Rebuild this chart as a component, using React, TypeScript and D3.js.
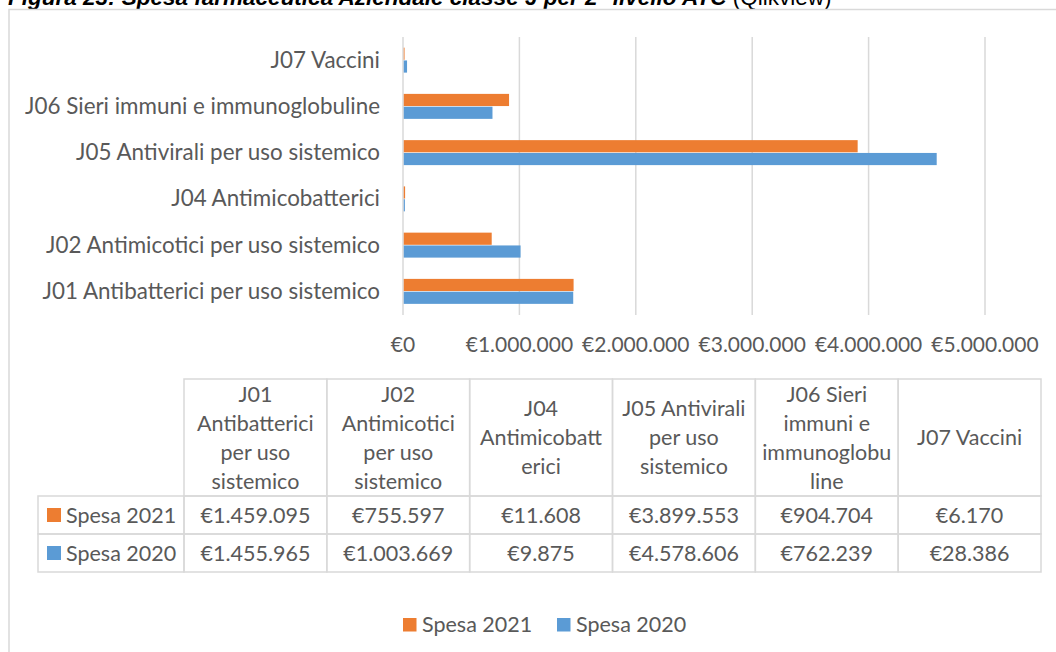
import React from "react";
import * as d3 from "d3";

const categories = [
  "J01 Antibatterici per uso sistemico",
  "J02 Antimicotici per uso sistemico",
  "J04 Antimicobatterici",
  "J05 Antivirali per uso sistemico",
  "J06 Sieri immuni e immunoglobuline",
  "J07 Vaccini",
];
const spesa2021 = [1459095, 755597, 11608, 3899553, 904704, 6170];
const spesa2020 = [1455965, 1003669, 9875, 4578606, 762239, 28386];
const seriesNames = ["Spesa 2021", "Spesa 2020"];
const seriesColors = ["#ED7D31", "#5B9BD5"];
const xTicks = [0, 1000000, 2000000, 3000000, 4000000, 5000000];
const tableHeaders = [
  ["J01", "Antibatterici", "per uso", "sistemico"],
  ["J02", "Antimicotici", "per uso", "sistemico"],
  ["J04", "Antimicobatt", "erici"],
  ["J05 Antivirali", "per uso", "sistemico"],
  ["J06 Sieri", "immuni e", "immunoglobu", "line"],
  ["J07 Vaccini"],
];

const locale = d3.formatLocale({
  decimal: ",",
  thousands: ".",
  grouping: [3],
  currency: ["€", ""],
});
const fmt = locale.format("$,.0f");

const FONT = "Lato, 'Open Sans', sans-serif";
const TXT = "#595959";
const GRID = "#d9d9d9";

export default function App() {
  const W = 1056;
  const H = 652;
  const x = d3.scaleLinear().domain([0, 5000000]).range([403, 985]);
  const yCat = d3
    .scaleBand<string>()
    .domain([...categories].reverse())
    .range([37, 314.5])
    .paddingInner(0.46)
    .paddingOuter(0.23);
  const ySer = d3
    .scaleBand<string>()
    .domain(seriesNames)
    .range([0, yCat.bandwidth()])
    .paddingInner(0.05);
  const series = [spesa2021, spesa2020];

  // table layout
  const tTop = 379;
  const tHeadBot = 496;
  const rowH = 38;
  const leftX = 38;
  const col = d3
    .scaleBand<number>()
    .domain(d3.range(categories.length))
    .range([184, 1041]);
  const lineH = 29;

  return (
    <svg
      width={W}
      height={H}
      style={{ position: "absolute", left: 0, top: 0, background: "#fff" }}
    >
      {/* title (cut off at top, as in the reference) */}
      <text
        x={8}
        y={5}
        fontFamily="'Liberation Sans', Arial, sans-serif"
        fontSize={22.5}
        fill="#000"
      >
        <tspan fontWeight="bold" fontStyle="italic">
          Figura 23: Spesa farmaceutica Aziendale classe J per 2° livello ATC
        </tspan>
        <tspan> (Qlikview)</tspan>
      </text>
      {/* chart frame */}
      <rect x={9} y={9.5} width={1100} height={700} fill="none" stroke={GRID} strokeWidth={1.5} />

      {/* gridlines */}
      {xTicks.map((t) => (
        <line key={t} x1={x(t)} x2={x(t)} y1={37} y2={315} stroke={GRID} strokeWidth={1.5} />
      ))}
      {/* bars */}
      {categories.map((c, i) => (
        <g key={c} transform={`translate(0,${yCat(c)})`}>
          {series.map((s, j) => (
            <rect
              key={j}
              x={x(0) + 0.75}
              y={ySer(seriesNames[j])}
              width={Math.max(0.8, x(s[i]) - x(0))}
              height={ySer.bandwidth()}
              fill={seriesColors[j]}
            />
          ))}
          <text
            x={380}
            y={yCat.bandwidth() / 2 + 7.5}
            textAnchor="end"
            fontFamily={FONT}
            fontSize={22.4}
            fill={TXT}
          >
            {c}
          </text>
        </g>
      ))}
      {/* x tick labels */}
      {xTicks.map((t) => (
        <text
          key={t}
          x={x(t)}
          y={352}
          textAnchor="middle"
          fontFamily={FONT}
          fontSize={21}
          fill={TXT}
        >
          {fmt(t)}
        </text>
      ))}

      {/* data table */}
      <g fontFamily={FONT} fill={TXT}>
        {tableHeaders.map((lines, i) => {
          const cx = (col(i) as number) + col.bandwidth() / 2;
          const cy = (tTop + tHeadBot) / 2;
          const first = cy - ((lines.length - 1) * lineH) / 2 + 7.5;
          return (
            <g key={i}>
              <rect
                x={col(i)}
                y={tTop}
                width={col.bandwidth()}
                height={tHeadBot - tTop}
                fill="none"
                stroke={GRID}
                strokeWidth={1.5}
              />
              {lines.map((l, k) => (
                <text key={k} x={cx} y={first + k * lineH} textAnchor="middle" fontSize={21.5}>
                  {l}
                </text>
              ))}
            </g>
          );
        })}
        {series.map((s, j) => {
          const top = tHeadBot + j * rowH;
          return (
            <g key={j}>
              <rect
                x={leftX}
                y={top}
                width={(col(0) as number) - leftX}
                height={rowH}
                fill="none"
                stroke={GRID}
                strokeWidth={1.5}
              />
              <rect x={47} y={top + 12} width={14} height={14} fill={seriesColors[j]} />
              <text x={66} y={top + rowH / 2 + 7.5} fontSize={21.5}>
                {seriesNames[j]}
              </text>
              {s.map((v, i) => (
                <g key={i}>
                  <rect
                    x={col(i)}
                    y={top}
                    width={col.bandwidth()}
                    height={rowH}
                    fill="none"
                    stroke={GRID}
                    strokeWidth={1.5}
                  />
                  <text
                    x={(col(i) as number) + col.bandwidth() / 2}
                    y={top + rowH / 2 + 7.5}
                    textAnchor="middle"
                    fontSize={21.5}
                  >
                    {fmt(v)}
                  </text>
                </g>
              ))}
            </g>
          );
        })}
      </g>

      {/* legend */}
      <g fontFamily={FONT} fill={TXT}>
        {seriesNames.map((n, j) => {
          const lx = j === 0 ? 403 : 557;
          return (
            <g key={n}>
              <rect x={lx} y={618} width={13.5} height={13.5} fill={seriesColors[j]} />
              <text x={lx + 19} y={632} fontSize={21.5}>
                {n}
              </text>
            </g>
          );
        })}
      </g>
    </svg>
  );
}
